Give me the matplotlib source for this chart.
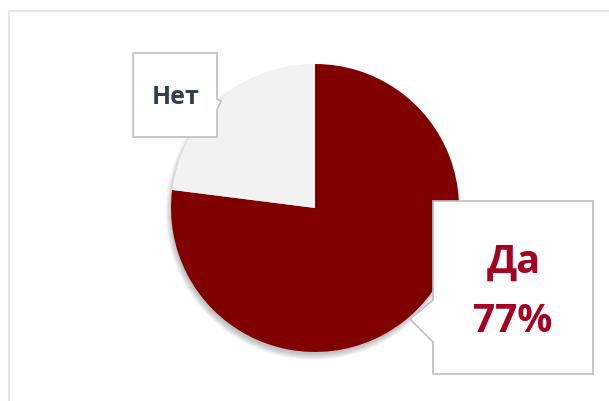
import matplotlib.pyplot as plt
from matplotlib.patches import Circle, Polygon
from matplotlib.lines import Line2D

labels = ['Да', 'Нет']
values = [77, 23]
colors = ['#800000', '#f2f2f2']
text_colors = ['#a50021', '#333f50']

W, H = 609, 401


def py(y):
    # pixel row (top-down) -> data y (bottom-up)
    return H - y


fig = plt.figure(figsize=(W / 100, H / 100), dpi=100)
ax = fig.add_axes([0, 0, 1, 1])

cx, cy, r = 315, py(208), 144

# soft drop shadow, mostly below the pie
for i in range(7):
    ax.add_patch(Circle((cx - 1.5, cy - 4), r - 1.5 + i * 0.9, color='black', alpha=0.035, lw=0, zorder=2))

ax.pie(values, colors=colors, startangle=90, counterclock=False, radius=r, center=(cx, cy),
       wedgeprops={'linewidth': 0, 'zorder': 3}, frame=True)
ax.set_xlim(0, W)
ax.set_ylim(0, H)
ax.set_aspect('equal')
ax.axis('off')

# outer frame (top and left edges visible)
ax.add_line(Line2D([8.5, 8.5, W], [0, py(11), py(11)], color='#e2e6ec', lw=1.6, zorder=1))

box_kw = dict(facecolor='white', edgecolor='#bfbfbf', lw=1.2, zorder=5, joinstyle='miter')

# callout for "Да"
da_pts = [(433, 201), (593, 201), (593, 374), (433, 374), (433, 342), (410, 319), (433, 300)]
ax.add_patch(Polygon([(x, py(y)) for x, y in da_pts], closed=True, **box_kw))

# callout for "Нет"
net_pts = [(133, 53), (217, 53), (217, 99), (221, 101), (217, 110), (217, 137), (133, 137)]
ax.add_patch(Polygon([(x, py(y)) for x, y in net_pts], closed=True, **box_kw))

total = sum(values)
pct = round(values[0] / total * 100)

font = ['Open Sans', 'DejaVu Sans']
ax.text(514, py(273), labels[0], ha='center', va='baseline', fontsize=28.5, fontweight='bold',
        color=text_colors[0], family=font, zorder=6)
ax.text(513, py(332), f'{pct}%', ha='center', va='baseline', fontsize=28, fontweight='bold',
        color=text_colors[0], family=font, zorder=6)
ax.text(176, py(104), labels[1], ha='center', va='baseline', fontsize=18, fontweight='bold',
        color=text_colors[1], family=font, zorder=6)

fig.savefig('out.png', dpi=100, facecolor='white')
